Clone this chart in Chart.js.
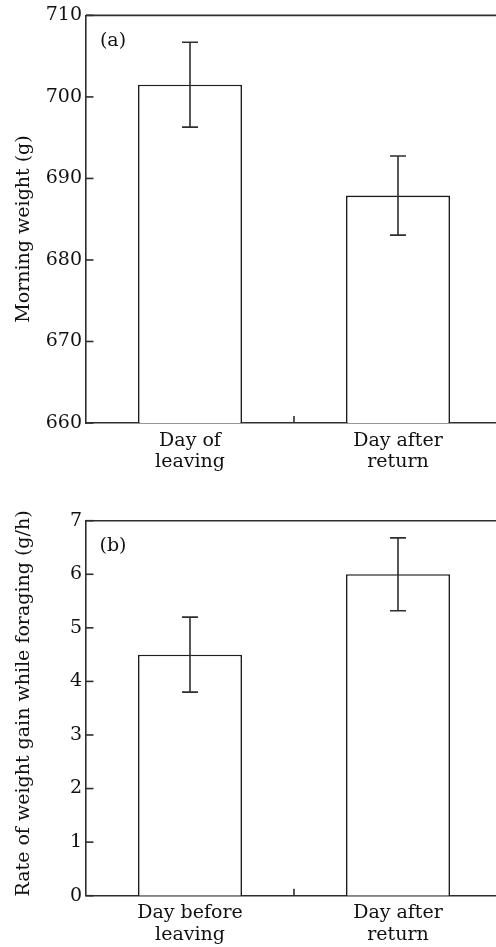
<!DOCTYPE html>
<html>
<head>
<meta charset="utf-8">
<script src="https://cdn.jsdelivr.net/npm/chart.js@4/dist/chart.umd.min.js"></script>
<style>
  html, body { margin: 0; padding: 0; background: #ffffff; overflow: hidden; width: 496px; height: 947px; }
  canvas { position: absolute; left: 0; }
  #cA { top: 0px; }
  #cB { top: 500px; }
</style>
</head>
<body>
<canvas id="cA" width="502" height="480"></canvas>
<canvas id="cB" width="502" height="447"></canvas>
<script>
// ---- Data ----
const categoriesA = [["Day of", "leaving"], ["Day after", "return"]];
const weightMeans = [701.5, 687.9];
const weightErrors = [5.2, 4.85];
const weightAxis = { min: 660, max: 710, step: 10 };
const weightTitle = "Morning weight (g)";
const panelA = "(a)";

const categoriesB = [["Day before", "leaving"], ["Day after", "return"]];
const gainMeans = [4.5, 6.0];
const gainErrors = [0.7, 0.68];
const gainAxis = { min: 0, max: 7, step: 1 };
const gainTitle = "Rate of weight gain while foraging (g/h)";
const panelB = "(b)";

// ---- Styling ----
const FONT = "'DejaVu Serif', 'Liberation Serif', serif";
const FSIZE = 19;
const LINE = '#2e2e2e';
const TEXT = '#111111';
const LW = 1.6;

const decorPlugin = {
  id: 'decor',
  afterDraw(chart, args, opts) {
    const ctx = chart.ctx;
    const area = chart.chartArea;
    const xs = chart.scales.x, ys = chart.scales.y;
    ctx.save();
    ctx.strokeStyle = LINE;
    ctx.lineWidth = LW;
    // top frame line
    ctx.beginPath();
    ctx.moveTo(area.left, area.top);
    ctx.lineTo(area.right, area.top);
    ctx.stroke();
    // inward y ticks
    for (let i = 0; i < ys.ticks.length; i++) {
      const y = ys.getPixelForTick(i);
      ctx.beginPath();
      ctx.moveTo(area.left, y);
      ctx.lineTo(area.left + 7.5, y);
      ctx.stroke();
    }
    // inward x tick between categories
    const n = chart.data.labels.length;
    for (let i = 1; i < n; i++) {
      const x = (xs.getPixelForValue(i - 1) + xs.getPixelForValue(i)) / 2;
      ctx.beginPath();
      ctx.moveTo(x, area.bottom);
      ctx.lineTo(x, area.bottom - 7);
      ctx.stroke();
    }
    // error bars
    const ds = chart.data.datasets[0];
    const errs = opts.errors;
    ds.data.forEach((m, i) => {
      const x = xs.getPixelForValue(i);
      const yt = ys.getPixelForValue(m + errs[i]);
      const yb = ys.getPixelForValue(m - errs[i]);
      ctx.beginPath();
      ctx.moveTo(x, yt); ctx.lineTo(x, yb);
      ctx.moveTo(x - 8, yt); ctx.lineTo(x + 8, yt);
      ctx.moveTo(x - 8, yb); ctx.lineTo(x + 8, yb);
      ctx.stroke();
    });
    // panel label
    ctx.fillStyle = TEXT;
    ctx.font = FSIZE + 'px ' + FONT;
    ctx.textAlign = 'center';
    ctx.textBaseline = 'middle';
    ctx.fillText(opts.panel, opts.panelX, opts.panelY);
    // y axis title
    ctx.translate(opts.titleX, opts.titleY);
    ctx.rotate(-Math.PI / 2);
    ctx.fillText(opts.title, 0, 0);
    ctx.restore();
  }
};

function makeChart(id, labels, means, errs, axis, title, panel, padTop, xHeight, panelY, titleY) {
  return new Chart(document.getElementById(id), {
    type: 'bar',
    data: {
      labels: labels,
      datasets: [{
        data: means,
        backgroundColor: '#ffffff',
        borderColor: '#1e1e1e',
        borderWidth: LW,
        barPercentage: 0.5,
        categoryPercentage: 1.0
      }]
    },
    options: {
      responsive: false,
      animation: false,
      devicePixelRatio: 1,
      layout: { padding: { top: padTop, left: 0, right: 0, bottom: 0 } },
      plugins: {
        legend: { display: false },
        tooltip: { enabled: false },
        decor: { errors: errs, panel: panel, panelX: 113, panelY: panelY, title: title, titleX: 24, titleY: titleY }
      },
      scales: {
        x: {
          grid: { display: false, drawTicks: false },
          border: { display: true, color: LINE, width: LW },
          ticks: { color: TEXT, padding: 7, font: { family: FONT, size: FSIZE, lineHeight: 1.12 }, maxRotation: 0, autoSkip: false },
          afterFit(s) { s.height = xHeight; }
        },
        y: {
          min: axis.min, max: axis.max,
          grid: { display: false, drawTicks: false },
          border: { display: true, color: LINE, width: LW },
          ticks: { stepSize: axis.step, color: TEXT, padding: 4, font: { family: FONT, size: FSIZE } },
          afterFit(s) { s.width = 86; }
        }
      }
    },
    plugins: [decorPlugin]
  });
}

makeChart('cA', categoriesA, weightMeans, weightErrors, weightAxis, weightTitle, panelA, 15, 57, 41, 229);
makeChart('cB', categoriesB, gainMeans, gainErrors, gainAxis, gainTitle, panelB, 20.7, 51.3, 46, 203.5);
</script>
</body>
</html>
